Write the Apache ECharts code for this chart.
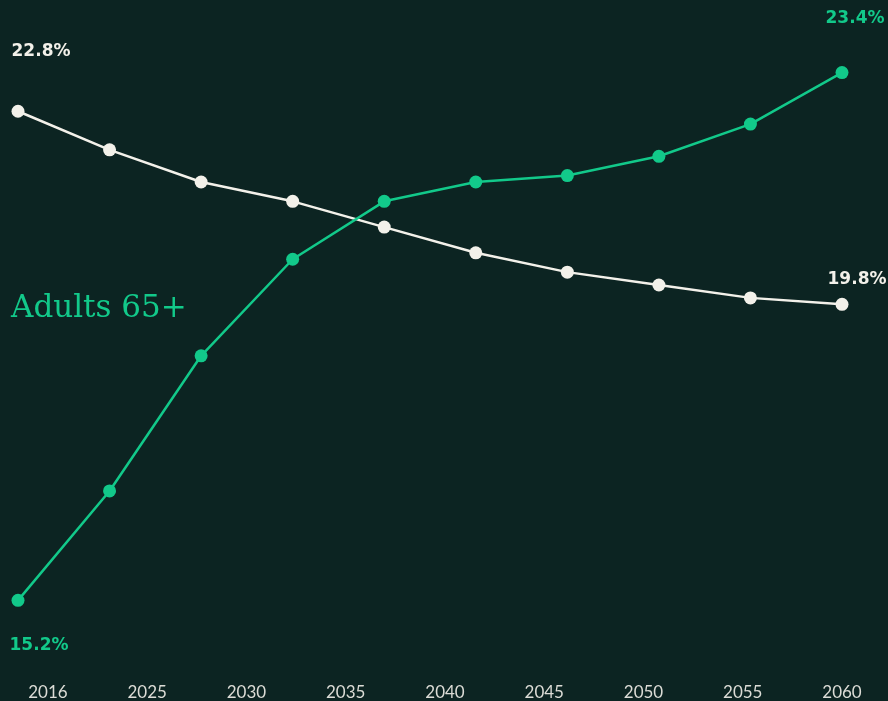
<!DOCTYPE html>
<html>
<head>
<meta charset="utf-8">
<style>
html,body{margin:0;padding:0;background:#0c2422;}
#chart{width:888px;height:701px;}
</style>
<script src="https://cdn.jsdelivr.net/npm/echarts@6/dist/echarts.min.js"></script>
</head>
<body>
<div id="chart"></div>
<script>
// Data
const years = ['2016','2020','2025','2030','2035','2040','2045','2050','2055','2060'];
const tickLabels = ['2016','2025','2030','2035','2040','2045','2050','2055','2060'];
const childrenUnder18 = [22.8, 22.2, 21.7, 21.4, 21.0, 20.6, 20.3, 20.1, 19.9, 19.8];
const adults65 = [15.2, 16.9, 19.0, 20.5, 21.4, 21.7, 21.8, 22.1, 22.6, 23.4];

const WHITE = '#f3f1ea';
const GREEN = '#12c98a';

function buildData(values, firstOffset, lastOffset, color) {
  return values.map((v, i) => {
    const item = { value: [i, v] };
    if (i === 0 || i === values.length - 1) {
      item.label = {
        show: true,
        position: 'inside',
        offset: i === 0 ? firstOffset : lastOffset,
        formatter: v.toFixed(1) + '%',
        color: color,
        fontFamily: 'DejaVu Sans',
        fontWeight: 'bold',
        fontSize: 17,
        align: 'center',
        verticalAlign: 'middle'
      };
    }
    return item;
  });
}

const chart = echarts.init(document.getElementById('chart'));
chart.setOption({
  backgroundColor: '#0c2422',
  animation: false,
  grid: { left: 18, right: 46, top: 34, bottom: 23.4 },
  xAxis: [
    { type: 'value', min: 0, max: years.length - 1, show: false },
    {
      type: 'value', min: -0.302, max: 8, position: 'bottom',
      axisLine: { show: false }, axisTick: { show: false }, splitLine: { show: false },
      axisLabel: {
        customValues: tickLabels.map((_, i) => i),
        formatter: (v) => tickLabels[Math.round(v)] || '',
        hideOverlap: false, showMaxLabel: true, showMinLabel: true,
        color: '#dcdcd6', fontFamily: 'Lato', fontSize: 17, margin: 6
      }
    }
  ],
  yAxis: { type: 'value', min: 14, max: 24, show: false },
  graphic: [{
    type: 'text', left: 11, top: 293,
    style: { text: 'Adults 65+', fill: GREEN, font: '31px "DejaVu Serif"' }
  }],
  series: [
    {
      name: 'Children under 18', type: 'line', xAxisIndex: 0,
      data: buildData(childrenUnder18, [23, -60], [15, -25], WHITE),
      symbol: 'circle', symbolSize: 13,
      lineStyle: { color: WHITE, width: 2.5 },
      itemStyle: { color: WHITE },
      z: 2
    },
    {
      name: 'Adults 65+', type: 'line', xAxisIndex: 0,
      data: buildData(adults65, [21, 45], [13, -54], GREEN),
      symbol: 'circle', symbolSize: 13,
      lineStyle: { color: GREEN, width: 2.5 },
      itemStyle: { color: GREEN },
      z: 3
    }
  ]
});
</script>
</body>
</html>
